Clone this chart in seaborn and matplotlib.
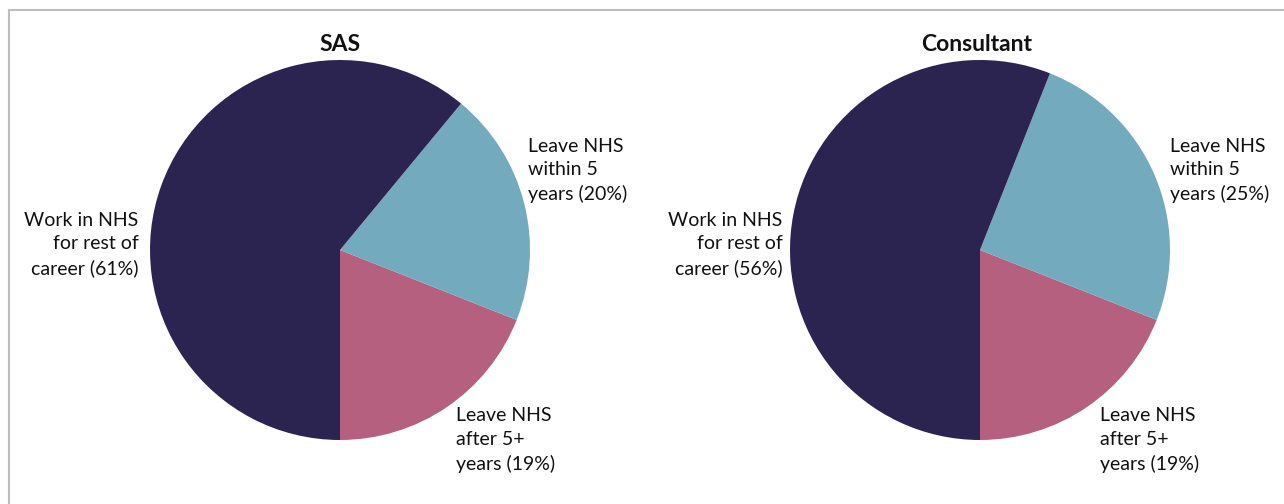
import matplotlib
matplotlib.use("Agg")
import matplotlib.pyplot as plt
import seaborn as sns
from matplotlib.lines import Line2D

sns.set_theme(style="white")
plt.rcParams['font.family'] = ['Lato', 'DejaVu Sans']

# data
groups = ["SAS", "Consultant"]
segments = ["Leave NHS after 5+ years", "Leave NHS within 5 years", "Work in NHS for rest of career"]
sas_vals = [19, 20, 61]
consultant_vals = [19, 25, 56]

palette = sns.color_palette(["#B5607F", "#74AABE", "#2C2450"])

fig = plt.figure(figsize=(12.84, 5.04), dpi=100)

# thin grey frame on top and left
fig.add_artist(Line2D([9 / 1284, 1], [1 - 10 / 504, 1 - 10 / 504], transform=fig.transFigure,
                      color="#BDBDBD", lw=1.5))
fig.add_artist(Line2D([9 / 1284, 9 / 1284], [0, 1 - 10 / 504], transform=fig.transFigure,
                      color="#BDBDBD", lw=1.5))

# axes placed so each pie has radius ~190px
lefts = [150 / 1284, 790 / 1284]
label_pos = {
    "work": (-1.06, 0.03),
    "within": (0.99, 0.42),
    "after": (0.61, -1.0),
}
label_pos_cons = {
    "work": (-1.04, 0.03),
    "within": (1.0, 0.42),
    "after": (0.63, -1.0),
}

for i, (name, vals) in enumerate(zip(groups, [sas_vals, consultant_vals])):
    ax = fig.add_axes([lefts[i], 64 / 504, 380 / 1284, 380 / 504])
    ax.pie(vals, colors=palette, startangle=-90, counterclock=True, radius=1,
           wedgeprops=dict(linewidth=0))
    ax.set_xlim(-1, 1)
    ax.set_ylim(-1, 1)
    ax.set_aspect("equal")
    ax.axis("off")

    pos = label_pos if i == 0 else label_pos_cons
    kw = dict(fontsize=14, color="#111111", va="center", linespacing=1.45, clip_on=False)
    ax.text(pos["work"][0], pos["work"][1],
            f"Work in NHS\nfor rest of\ncareer ({vals[2]}%)", ha="right", multialignment="right", **kw)
    ax.text(pos["within"][0], pos["within"][1],
            f"Leave NHS\nwithin 5\nyears ({vals[1]}%)", ha="left", **kw)
    ax.text(pos["after"][0], pos["after"][1],
            f"Leave NHS\nafter 5+\nyears ({vals[0]}%)", ha="left", **kw)
    ax.text(-0.02 if i else 0, 1.08, name, ha="center", va="center", fontsize=16.5,
            fontweight="bold", color="#111111", clip_on=False)

fig.savefig("out.png", dpi=100)
